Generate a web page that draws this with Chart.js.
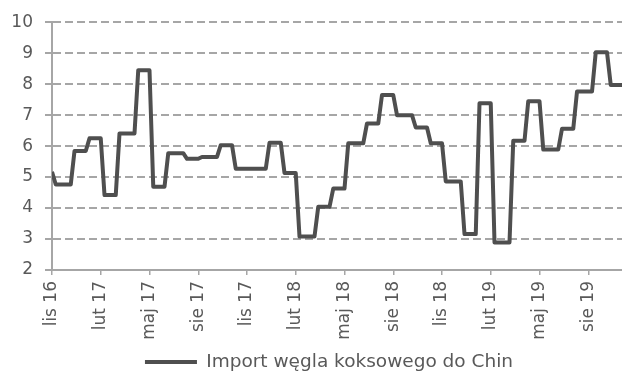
<!DOCTYPE html>
<html>
<head>
<meta charset="utf-8">
<script src="https://cdn.jsdelivr.net/npm/chart.js@4/dist/chart.umd.min.js"></script>
<style>
  html, body { margin: 0; padding: 0; background: #ffffff; }
  #wrap { width: 622px; height: 374px; }
</style>
</head>
<body>
<div id="wrap"><canvas id="chart" width="622" height="374"></canvas></div>
<script>
// Weekly series of China's coking coal imports (each week carries the latest monthly figure)
const seriesName = 'Import węgla koksowego do Chin';

// Axis labels, one every 13 weeks (quarterly), starting at week 0
const monthTicks = ['lis 16', 'lut 17', 'maj 17', 'sie 17', 'lis 17', 'lut 18',
                    'maj 18', 'sie 18', 'lis 18', 'lut 19', 'maj 19', 'sie 19'];
const weeksPerTick = 13;

const yTicks = { min: 2, max: 10, step: 1 };

const weeklyImports = [
  5.17,
  4.76, 4.76, 4.76, 4.76, 4.76,
  5.84, 5.84, 5.84, 5.84,
  6.25, 6.25, 6.25, 6.25,
  4.42, 4.42, 4.42, 4.42,
  6.41, 6.41, 6.41, 6.41, 6.41,
  8.45, 8.45, 8.45, 8.45,
  4.69, 4.69, 4.69, 4.69,
  5.77, 5.77, 5.77, 5.77, 5.77,
  5.59, 5.59, 5.59, 5.59,
  5.65, 5.65, 5.65, 5.65, 5.65,
  6.03, 6.03, 6.03, 6.03,
  5.27, 5.27, 5.27, 5.27, 5.27, 5.27, 5.27, 5.27, 5.27,
  6.11, 6.11, 6.11, 6.11,
  5.13, 5.13, 5.13, 5.13,
  3.08, 3.08, 3.08, 3.08, 3.08,
  4.04, 4.04, 4.04, 4.04,
  4.63, 4.63, 4.63, 4.63,
  6.09, 6.09, 6.09, 6.09, 6.09,
  6.73, 6.73, 6.73, 6.73,
  7.65, 7.65, 7.65, 7.65,
  7.00, 7.00, 7.00, 7.00, 7.00,
  6.60, 6.60, 6.60, 6.60,
  6.09, 6.09, 6.09, 6.09,
  4.86, 4.86, 4.86, 4.86, 4.86,
  3.16, 3.16, 3.16, 3.16,
  7.38, 7.38, 7.38, 7.38,
  2.89, 2.89, 2.89, 2.89, 2.89,
  6.17, 6.17, 6.17, 6.17,
  7.45, 7.45, 7.45, 7.45,
  5.89, 5.89, 5.89, 5.89, 5.89,
  6.56, 6.56, 6.56, 6.56,
  7.76, 7.76, 7.76, 7.76, 7.76,
  9.03, 9.03, 9.03, 9.03,
  7.97, 7.97, 7.97, 7.97
];

const textColor = '#595959';
const axisColor = '#a6a6a6';
const lineColor = '#4f4f4f';
const tickFont = { family: 'DejaVu Sans', size: 17 };
const legendFont = { family: 'DejaVu Sans', size: 18.5 };

// Nudge the legend so it sits centred under the plot area rather than the canvas
const legendShift = {
  id: 'legendShift',
  afterLayout(chart) {
    if (chart.legend) {
      chart.legend.left += 18;
      chart.legend.right += 18;
    }
  }
};

new Chart(document.getElementById('chart'), {
  type: 'line',
  data: {
    datasets: [{
      label: seriesName,
      data: weeklyImports.map((v, i) => ({ x: i, y: v })),
      borderColor: lineColor,
      backgroundColor: lineColor,
      borderWidth: 4,
      borderJoinStyle: 'round',
      pointRadius: 0,
      tension: 0,
      fill: false
    }]
  },
  plugins: [legendShift],
  options: {
    responsive: false,
    animation: false,
    devicePixelRatio: 1,
    layout: { padding: { top: 22, right: 0, bottom: -7.25, left: 0 } },
    plugins: {
      tooltip: { enabled: false },
      legend: {
        position: 'bottom',
        labels: {
          usePointStyle: true,
          pointStyle: 'line',
          pointStyleWidth: 52,
          padding: 4,
          color: textColor,
          font: legendFont
        }
      }
    },
    scales: {
      x: {
        type: 'linear',
        min: 0,
        max: weeklyImports.length - 1,
        afterBuildTicks: (scale) => {
          scale.ticks = monthTicks.map((_, i) => ({ value: i * weeksPerTick }));
        },
        afterFit: (scale) => { scale.height = 78.75; },
        ticks: {
          autoSkip: false,
          minRotation: 90,
          maxRotation: 90,
          padding: 6,
          color: textColor,
          font: tickFont,
          callback: (value) => monthTicks[Math.round(value / weeksPerTick)]
        },
        grid: { drawOnChartArea: false, drawTicks: true, tickLength: 5, color: axisColor, lineWidth: 1.5 },
        border: { color: axisColor, width: 2 }
      },
      y: {
        min: yTicks.min,
        max: yTicks.max,
        afterFit: (scale) => { scale.width = 52; },
        ticks: { stepSize: yTicks.step, padding: 12, color: textColor, font: tickFont },
        grid: { color: axisColor, lineWidth: 2, tickLength: 7 },
        border: { color: axisColor, width: 2, dash: [8, 4] }
      }
    }
  }
});
</script>
</body>
</html>
